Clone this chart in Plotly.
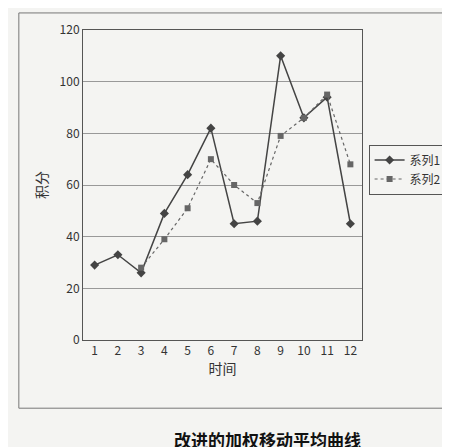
import plotly.graph_objects as go

periods = list(range(1, 13))
series1 = [29, 33, 26, 49, 64, 82, 45, 46, 110, 86, 94, 45]
series2_periods = list(range(3, 13))
series2 = [28, 39, 51, 70, 60, 53, 79, 86, 95, 68]
y_ticks = [0, 20, 40, 60, 80, 100, 120]

font = "Noto Sans CJK SC"

fig = go.Figure()
fig.add_trace(go.Scatter(
    x=periods, y=series1, name="系列1", mode="lines+markers",
    line=dict(color="#444", width=1.5),
    marker=dict(symbol="diamond", size=7, color="#444"),
))
fig.add_trace(go.Scatter(
    x=series2_periods, y=series2, name="系列2", mode="lines+markers",
    line=dict(color="#666", width=1.2, dash="dot"),
    marker=dict(symbol="square", size=6, color="#666"),
))

fig.update_layout(
    width=450, height=447,
    paper_bgcolor="#f4f4f2", plot_bgcolor="#f4f4f2",
    margin=dict(l=75, r=95, t=22, b=115),
    font=dict(family=font, size=12, color="#333"),
    xaxis=dict(
        tickvals=periods, range=[0.5, 12.5], title=dict(text="时间", standoff=4),
        showgrid=False, showline=True, linecolor="#555", mirror=True, ticks="",
    ),
    yaxis=dict(
        tickvals=y_ticks, range=[0, 120], title=dict(text="积分", standoff=8),
        showgrid=True, gridcolor="#999", showline=True, linecolor="#555",
        mirror=True, ticks="",
    ),
    legend=dict(
        x=1.02, y=0.55, xanchor="left", yanchor="middle",
        bordercolor="#555", borderwidth=1, bgcolor="#f4f4f2",
        font=dict(size=12),
    ),
    showlegend=True,
)

fig.add_shape(type="rect", xref="paper", yref="paper",
              x0=-0.23, x1=1.3, y0=-0.22, y1=1.055,
              line=dict(color="#777", width=1))

fig.add_annotation(text="<b>改进的加权移动平均曲线</b>", xref="paper", yref="paper",
                   x=0.66, y=-0.32, xanchor="center", yanchor="middle",
                   showarrow=False, font=dict(size=17, color="#111"))

fig.write_html("out.html")
